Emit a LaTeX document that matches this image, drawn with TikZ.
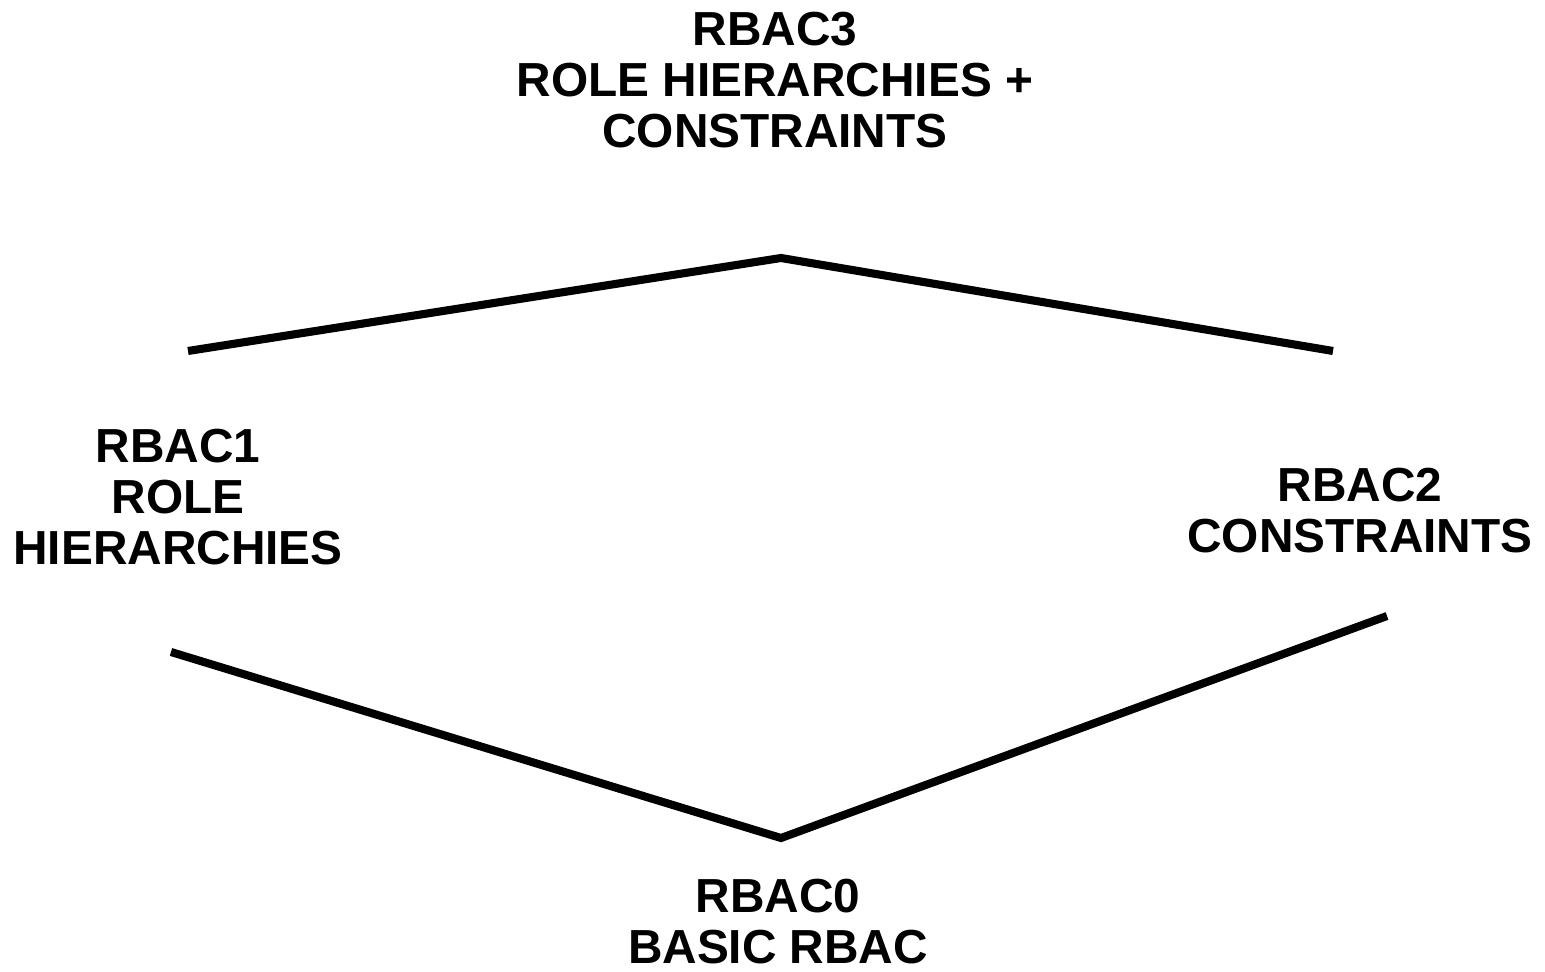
\documentclass[tikz,border=0pt]{standalone}
\usepackage{fontspec}
\setmainfont{Liberation Sans}
\usepackage{tikz}

\begin{document}
\begin{tikzpicture}
  [x=0.02cm,y=-0.02cm,
    level/.style={align=center,font=\fontsize{27.2}{29}\selectfont\bfseries},
    link/.style={line width=4.6pt}]
  \useasboundingbox (0,0) rectangle (1545,972);
  % the four models
  \node[level] (rbac3) at (775,80) {RBAC3\\ROLE HIERARCHIES +\\CONSTRAINTS};
  \node[level] (rbac1) at (178,497) {RBAC1\\ROLE\\HIERARCHIES};
  \node[level] (rbac2) at (1360,511) {RBAC2\\CONSTRAINTS};
  \node[level] (rbac0) at (778,922) {RBAC0\\BASIC RBAC};
  % ends of the lines
  \coordinate (top) at (781,258);
  \coordinate (topl) at (188,351);
  \coordinate (topr) at (1333,351);
  \coordinate (bot) at (781,838);
  \coordinate (botl) at (171,652);
  \coordinate (botr) at (1387,616);
  \draw[link] (topl) -- (top) -- (topr);
  \draw[link] (botl) -- (bot) -- (botr);
\end{tikzpicture}
\end{document}
